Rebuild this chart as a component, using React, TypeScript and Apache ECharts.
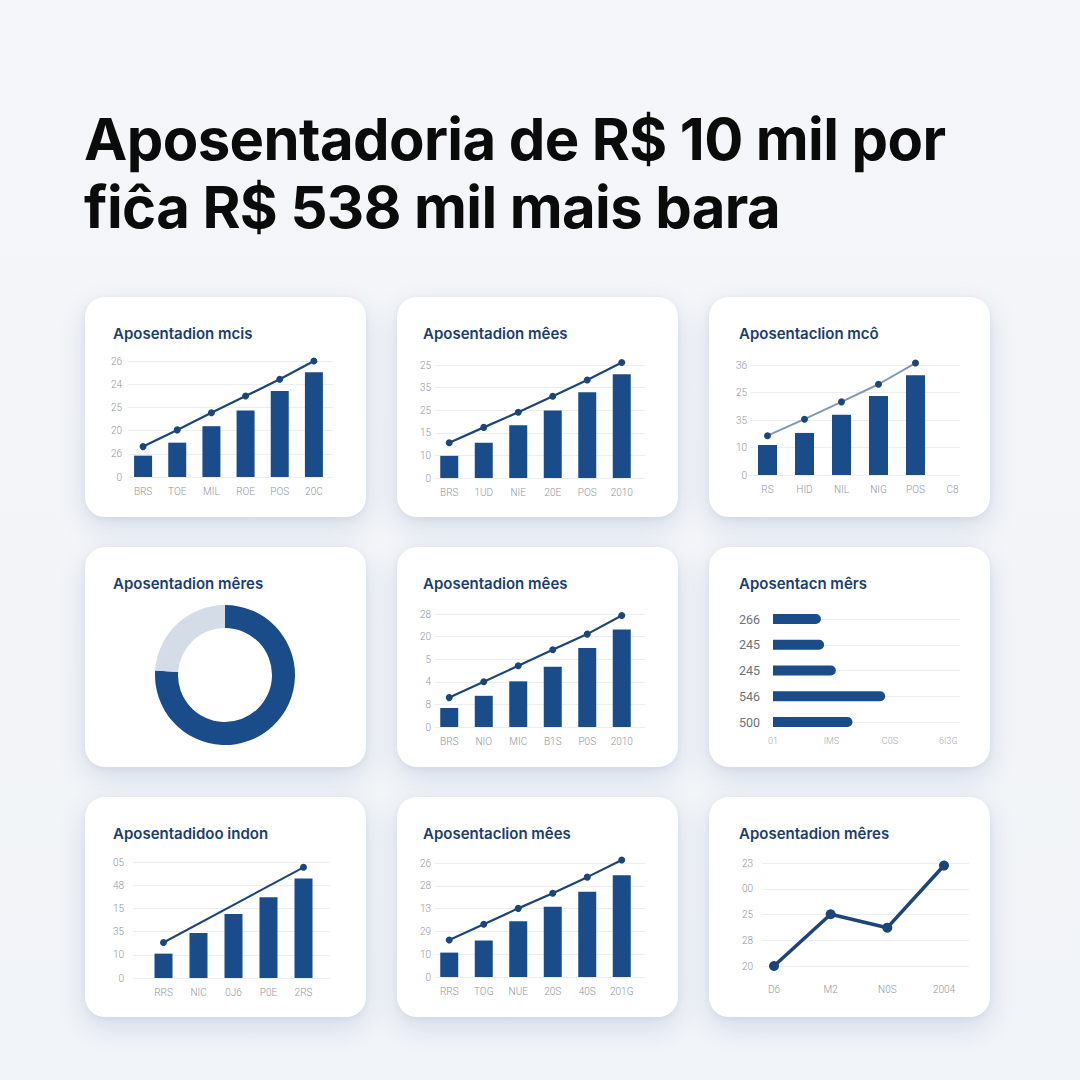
import { useEffect, useRef } from "react";
import * as echarts from "echarts";

// Dashboard of nine small "Aposentadoria" cards under a two-line headline.

const BAR = "#1a4c89";
const LINE = "#1c4579";
const SOFT_LINE = "#8498b6";
const RING_LIGHT = "#d3dce7";
const TICK = "#8f959e";
const GRID_LINE = "#eceef2";
const TITLE = "#1b3d70";

// Card 1
const c1Cats = ["BRS", "TOE", "MIL", "ROE", "POS", "20C"];
const c1Ticks = ["0", "26", "20", "25", "24", "26"];
const c1Bars = [0.92, 1.48, 2.19, 2.87, 3.71, 4.51];
const c1Line = [1.31, 2.03, 2.77, 3.49, 4.21, 5.0];

// Card 2
const c2Cats = ["BRS", "1UD", "NIE", "20E", "POS", "2010"];
const c2Ticks = ["0", "10", "15", "25", "35", "25"];
const c2Bars = [0.98, 1.56, 2.33, 2.99, 3.79, 4.59];
const c2Line = [1.56, 2.24, 2.91, 3.62, 4.34, 5.11];

// Card 3
const c3Cats = ["RS", "HID", "NIL", "NIG", "POS", "C8"];
const c3Ticks = ["0", "10", "35", "25", "36"];
const c3Bars = [1.09, 1.53, 2.19, 2.87, 3.63, null];
const c3Line = [1.43, 2.03, 2.66, 3.3, 4.07, null];

// Card 4 (donut)
const c4Names = ["A", "B"];
const c4Values = [76, 24];

// Card 5
const c5Cats = ["BRS", "NIO", "MIC", "B1S", "P0S", "2010"];
const c5Ticks = ["0", "8", "4", "5", "20", "28"];
const c5Bars = [0.84, 1.38, 2.02, 2.67, 3.5, 4.31];
const c5Line = [1.3, 2.0, 2.71, 3.42, 4.11, 4.93];

// Card 6 (horizontal bars)
const c6Cats = ["266", "245", "245", "546", "500"];
const c6Ticks = ["01", "IMS", "C0S", "6I3G"];
const c6Bars = [0.82, 0.875, 1.075, 1.92, 1.36];

// Card 7
const c7Cats = ["RRS", "NIC", "0J6", "P0E", "2RS"];
const c7Ticks = ["0", "10", "35", "15", "48", "05"];
const c7Bars = [1.05, 1.94, 2.76, 3.48, 4.29];
const c7Line = [1.53, null, null, null, 4.77];

// Card 8
const c8Cats = ["RRS", "TOG", "NUE", "20S", "40S", "201G"];
const c8Ticks = ["0", "10", "29", "13", "28", "26"];
const c8Bars = [1.07, 1.6, 2.45, 3.08, 3.74, 4.46];
const c8Line = [1.62, 2.31, 3.01, 3.67, 4.38, 5.13];

// Card 9 (line)
const c9Cats = ["D6", "M2", "N0S", "2004"];
const c9Ticks = ["20", "28", "25", "00", "23"];
const c9Line = [0, 2.01, 1.49, 3.9];

const CARD_W = 281;
const CARD_H = 220;
const COLS = [85, 397, 709];
const ROWS = [297, 547, 797];

const tickFont = { color: TICK, fontSize: 10, fontFamily: "Roboto, sans-serif", fontWeight: 300 as const };

function cardTitle(text: string, left: number) {
  return {
    text,
    left,
    top: 29,
    padding: 0,
    textStyle: { color: TITLE, fontSize: 15, fontWeight: 600 as const, fontFamily: "Inter, sans-serif" },
  };
}

type Margins = { l: number; r: number; t: number; b: number };

function barLineOption(p: {
  title: string;
  titleLeft: number;
  cats: string[];
  ticks: string[];
  bars: (number | null)[] | null;
  line: (number | null)[];
  box: Margins; // extent of the gridlines
  band: { l: number; r: number }; // extent of the category axis
  labelMargin: number;
  xLabelMargin: number;
  lineColor?: string;
  lineWidth?: number;
  symbolSize?: number;
  boundaryGap?: boolean;
  barWidth?: number;
}) {
  const max = p.ticks.length - 1;
  const series: any[] = [];
  if (p.bars) {
    series.push({
      type: "bar",
      xAxisIndex: 1,
      yAxisIndex: 1,
      data: p.bars,
      barWidth: p.barWidth ?? 18,
      itemStyle: { color: BAR },
    });
  }
  series.push({
    type: "line",
    xAxisIndex: 1,
    yAxisIndex: 1,
    data: p.line,
    connectNulls: true,
    clip: false,
    symbol: "circle",
    symbolSize: p.symbolSize ?? 7,
    showSymbol: true,
    lineStyle: { color: p.lineColor ?? LINE, width: p.lineWidth ?? 2.2 },
    itemStyle: { color: LINE },
    z: 5,
  });
  return {
    animation: false,
    title: cardTitle(p.title, p.titleLeft),
    grid: [
      { left: p.box.l, right: p.box.r, top: p.box.t, bottom: p.box.b },
      { left: p.band.l, right: p.band.r, top: p.box.t, bottom: p.box.b },
    ],
    xAxis: [
      { gridIndex: 0, type: "value", show: false, min: 0, max: 1 },
      {
        gridIndex: 1,
        type: "category",
        data: p.cats,
        boundaryGap: p.boundaryGap ?? true,
        axisLine: { show: false },
        axisTick: { show: false },
        axisLabel: { ...tickFont, margin: p.xLabelMargin, interval: 0 },
      },
    ],
    yAxis: [
      {
        gridIndex: 0,
        type: "value",
        min: 0,
        max,
        interval: 1,
        axisLine: { show: false },
        axisTick: { show: false },
        axisLabel: { ...tickFont, margin: p.labelMargin, formatter: (v: number) => p.ticks[Math.round(v)] ?? "" },
        splitLine: { lineStyle: { color: GRID_LINE, width: 1 } },
      },
      { gridIndex: 1, type: "value", min: 0, max, show: false },
    ],
    series,
  };
}

const opt1 = barLineOption({
  title: "Aposentadion mcis", titleLeft: 28, cats: c1Cats, ticks: c1Ticks, bars: c1Bars, line: c1Line,
  box: { l: 43, r: 33, t: 64, b: 40 }, band: { l: 41, r: 35 }, labelMargin: 6, xLabelMargin: 9,
});
const opt2 = barLineOption({
  title: "Aposentadion mêes", titleLeft: 26, cats: c2Cats, ticks: c2Ticks, bars: c2Bars, line: c2Line,
  box: { l: 38, r: 33, t: 68, b: 39 }, band: { l: 35, r: 39 }, labelMargin: 4, xLabelMargin: 9,
});
const opt3 = barLineOption({
  title: "Aposentaclion mcô", titleLeft: 30, cats: c3Cats, ticks: c3Ticks, bars: c3Bars, line: c3Line,
  box: { l: 41, r: 30, t: 68, b: 42 }, band: { l: 40, r: 19 }, labelMargin: 3, xLabelMargin: 9,
  lineColor: SOFT_LINE, lineWidth: 2, barWidth: 19,
});
const opt5 = barLineOption({
  title: "Aposentadion mêes", titleLeft: 26, cats: c5Cats, ticks: c5Ticks, bars: c5Bars, line: c5Line,
  box: { l: 38, r: 33, t: 67, b: 40 }, band: { l: 35, r: 39 }, labelMargin: 4, xLabelMargin: 9,
});
const opt7 = barLineOption({
  title: "Aposentadidoo indon", titleLeft: 28, cats: c7Cats, ticks: c7Ticks, bars: c7Bars, line: c7Line,
  box: { l: 48, r: 36, t: 65, b: 39 }, band: { l: 61, r: 45 }, labelMargin: 9, xLabelMargin: 9,
  lineWidth: 2,
});
const opt8 = barLineOption({
  title: "Aposentaclion mêes", titleLeft: 26, cats: c8Cats, ticks: c8Ticks, bars: c8Bars, line: c8Line,
  box: { l: 38, r: 33, t: 66, b: 40 }, band: { l: 35, r: 39 }, labelMargin: 4, xLabelMargin: 9,
});
const opt9 = barLineOption({
  title: "Aposentadion mêres", titleLeft: 30, cats: c9Cats, ticks: c9Ticks, bars: null, line: c9Line,
  box: { l: 53, r: 21, t: 66, b: 51 }, band: { l: 65, r: 46 }, labelMargin: 9, xLabelMargin: 18,
  lineWidth: 3.6, symbolSize: 10, boundaryGap: false,
});

const opt4 = {
  animation: false,
  title: cardTitle("Aposentadion mêres", 28),
  series: [
    {
      type: "pie",
      center: [140, 128],
      radius: [47, 70],
      startAngle: 90,
      clockwise: true,
      silent: true,
      label: { show: false },
      labelLine: { show: false },
      data: c4Names.map((n, i) => ({
        name: n,
        value: c4Values[i],
        itemStyle: { color: i === 0 ? BAR : RING_LIGHT },
      })),
    },
  ],
};

const opt6 = {
  animation: false,
  title: cardTitle("Aposentacn mêrs", 30),
  grid: { left: 64, right: 30, top: 72, bottom: 45 },
  xAxis: {
    type: "value",
    min: 0,
    max: 3.2,
    interval: 1,
    axisLine: { show: false },
    axisTick: { show: false },
    splitLine: { show: false },
    axisLabel: {
      ...tickFont,
      color: "#a3a8b1",
      fontSize: 9,
      margin: 14,
      showMaxLabel: false,
      formatter: (v: number) => (Number.isInteger(v) ? c6Ticks[v] ?? "" : ""),
    },
  },
  yAxis: {
    type: "category",
    data: c6Cats,
    inverse: true,
    boundaryGap: false,
    axisLine: { show: false },
    axisTick: { show: false },
    splitLine: { show: true, lineStyle: { color: GRID_LINE } },
    axisLabel: { color: "#6d727b", fontSize: 12.5, fontFamily: "Roboto, sans-serif", margin: 13 },
  },
  series: [
    {
      type: "bar",
      data: c6Bars,
      barWidth: 10,
      clip: false,
      itemStyle: { color: BAR, borderRadius: [0, 5, 5, 0] },
    },
  ],
};

const CARDS = [opt1, opt2, opt3, opt4, opt5, opt6, opt7, opt8, opt9];

function Card({ option, x, y }: { option: any; x: number; y: number }) {
  const ref = useRef<HTMLDivElement>(null);
  useEffect(() => {
    if (!ref.current) return;
    const inst = echarts.init(ref.current, undefined, { renderer: "svg" });
    inst.setOption(option);
    return () => inst.dispose();
  }, [option]);
  return (
    <div
      style={{
        position: "absolute",
        left: x,
        top: y,
        width: CARD_W,
        height: CARD_H,
        background: "#ffffff",
        borderRadius: 20,
        boxShadow: "0 10px 28px rgba(50,80,140,0.15), 0 2px 6px rgba(50,80,140,0.07)",
      }}
    >
      <div ref={ref} style={{ width: CARD_W, height: CARD_H }} />
    </div>
  );
}

export default function App() {
  return (
    <div
      style={{
        position: "absolute",
        left: 0,
        top: 0,
        width: 1080,
        height: 1080,
        overflow: "hidden",
        background: "linear-gradient(180deg, #f4f6f9 0%, #f1f4f8 100%)",
      }}
    >
      <div
        style={{
          position: "absolute",
          left: 84,
          top: 105,
          fontFamily: "Inter, sans-serif",
          fontWeight: 700,
          fontSize: 58,
          lineHeight: "68px",
          letterSpacing: -0.6,
          color: "#0b0b0c",
          whiteSpace: "nowrap",
        }}
      >
        <div>Aposentadoria de R$ 10 mil por</div>
        <div>fiĉa R$ 538 mil mais bara</div>
      </div>
      {CARDS.map((opt, i) => (
        <Card key={i} option={opt} x={COLS[i % 3]} y={ROWS[Math.floor(i / 3)]} />
      ))}
    </div>
  );
}
